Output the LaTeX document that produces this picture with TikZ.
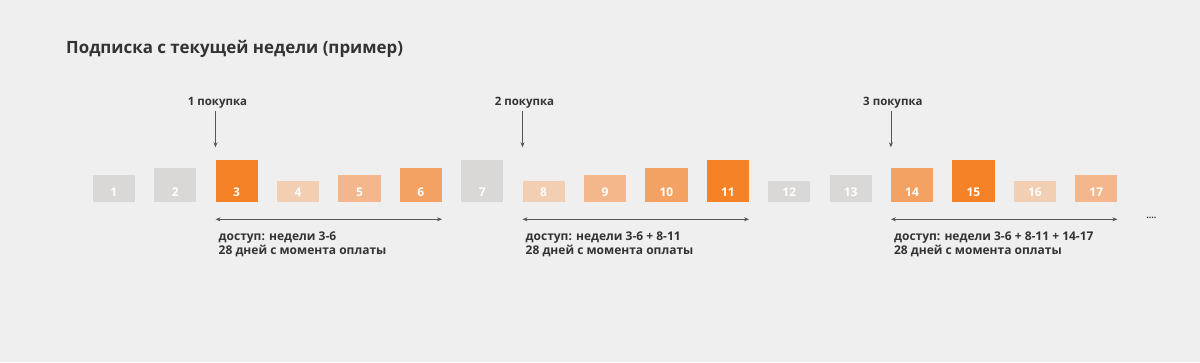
\documentclass[tikz,border=0pt]{standalone}
\usepackage{fontspec}
\setmainfont{Open Sans}
\usetikzlibrary{positioning,arrows.meta}

\definecolor{bgcol}{HTML}{EFEFEF}
\definecolor{txt}{HTML}{333333}
\definecolor{arr}{HTML}{555555}
\definecolor{grey}{HTML}{D9D8D6}
\definecolor{o1}{HTML}{F2CEB2}
\definecolor{o2}{HTML}{F4B78B}
\definecolor{o3}{HTML}{F4A263}
\definecolor{o4}{HTML}{F58226}

\begin{document}
\begin{tikzpicture}[
x=1pt,y=-1pt,
>={Stealth[length=5pt,width=4pt]},
bar/.style={
rectangle,
inner sep=0pt,
outer sep=0pt,
minimum width=42.3pt,
anchor=south west},
num/.style={text=white,font=\bfseries\fontsize{12}{12}\selectfont},
buy/.style={text=txt,font=\bfseries\fontsize{11.5}{12}\selectfont,inner sep=3pt,outer sep=0pt},
info/.style={text=txt,font=\bfseries\fontsize{12}{14.3}\selectfont,align=left,inner sep=0pt},
span/.style={<->,draw=arr,line width=0.8pt},
down/.style={->,draw=arr,line width=0.8pt}
]

\fill[bgcol] (0,0) rectangle (1200,362);
\useasboundingbox (0,0) rectangle (1200,362);

\node[anchor=base west,text=txt,font=\bfseries\fontsize{16.9}{18}\selectfont,inner sep=0pt] (title) at (66,53) {Подписка с текущей недели (пример)};

% weeks
\node[bar,fill=grey,minimum height=27.3pt] (w1) at (92.7,202.3) {};
\node[num,above=5.5pt of w1.south,anchor=base] (n1) {1};

\foreach \h/\c [count=\i from 2,remember=\i as \p (initially 1)] in
{34.6/grey,42.3/o4,21.6/o1,27.3/o2,34.6/o3,42.3/grey,21.6/o1,27.3/o2,34.6/o3,
42.3/o4,21.6/grey,27.3/grey,34.6/o3,42.3/o4,21.6/o1,27.3/o2}{
\node[bar,fill=\c,minimum height=\h pt,right=19.1pt of w\p.south east,anchor=south west] (w\i) {};
\node[num,above=5.5pt of w\i.south,anchor=base] (n\i) {\i};
}

% purchases
\foreach \w/\k in {3/1,8/2,14/3}{
\coordinate (p\k) at ([yshift=55pt]w\w.south west);
\node[buy,anchor=base,xshift=2pt] (b\k) at ([yshift=42pt]p\k) {\k\ покупка};
\draw[down] (b\k.south -| p\k)--(p\k);
}

% access periods
\draw[span] ([yshift=-17pt]w3.south west)--([yshift=-17pt]w6.south east);
\draw[span] ([yshift=-17pt]w8.south west)--([yshift=-17pt]w11.south east);
\draw[span] ([yshift=-17pt]w14.south west)--([yshift=-17pt]w17.south east);

\node[info,anchor=base west] (a1) at ([xshift=3pt,yshift=-52pt]w3.south west) {доступ: недели 3-6\\28 дней с момента оплаты};
\node[info,anchor=base west] (a2) at ([xshift=3pt,yshift=-52pt]w8.south west) {доступ: недели 3-6 + 8-11\\28 дней с момента оплаты};
\node[info,anchor=base west] (a3) at ([xshift=3pt,yshift=-52pt]w14.south west) {доступ: недели 3-6 + 8-11 + 14-17\\28 дней с момента оплаты};

\node[text=txt,font=\bfseries\fontsize{9}{9}\selectfont,anchor=base] (more) at ([xshift=34pt,yshift=-16pt]w17.south east) {....};

\end{tikzpicture}
\end{document}
